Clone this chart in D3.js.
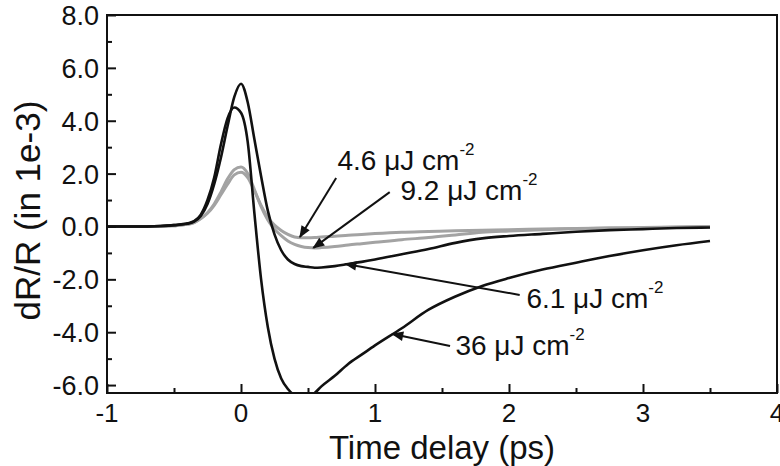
<!DOCTYPE html>
<html>
<head>
<meta charset="utf-8">
<script src="https://cdn.jsdelivr.net/npm/d3@7"></script>
<style>
  body { margin: 0; background: #fff; }
  svg { display: block; font-family: "Liberation Sans", Arial, sans-serif; }
</style>
</head>
<body>
<svg id="chart" width="780" height="466"></svg>
<script>
// time delay (ps), shared by all four traces
var times = [-1.0, -0.8, -0.6, -0.5, -0.4, -0.35, -0.3, -0.25, -0.2, -0.15, -0.1, -0.05,
  0.0, 0.05, 0.1, 0.15, 0.2, 0.25, 0.3, 0.35, 0.4, 0.45, 0.5, 0.55, 0.6, 0.7, 0.8, 0.9,
  1.0, 1.2, 1.4, 1.6, 1.8, 2.0, 2.25, 2.5, 2.75, 3.0, 3.25, 3.5];

// dR/R in 1e-3
var f36 = [0.0, 0.0, 0.02, 0.05, 0.12, 0.2, 0.45, 1.0, 1.85, 3.1, 4.1, 4.5,
  4.3, 3.2, 0.5, -2.0, -3.8, -5.0, -5.75, -6.15, -6.4, -6.55, -6.5, -6.3, -6.05, -5.65, -5.2, -4.85,
  -4.5, -3.85, -3.15, -2.65, -2.25, -1.95, -1.63, -1.37, -1.12, -0.9, -0.71, -0.55];
var f61 = [0.0, 0.0, 0.02, 0.05, 0.1, 0.18, 0.4, 0.85, 1.6, 2.6, 3.8, 4.9,
  5.4, 4.7, 3.3, 1.9, 0.6, -0.3, -0.9, -1.25, -1.42, -1.5, -1.53, -1.56, -1.55, -1.5, -1.42, -1.34,
  -1.25, -1.05, -0.85, -0.62, -0.45, -0.36, -0.28, -0.2, -0.14, -0.1, -0.06, -0.04];
var f46 = [0.0, 0.0, 0.0, 0.03, 0.08, 0.15, 0.3, 0.5, 0.8, 1.2, 1.6, 1.95,
  2.05, 1.85, 1.35, 0.8, 0.35, 0.05, -0.15, -0.3, -0.4, -0.43, -0.43, -0.42, -0.4, -0.37, -0.33, -0.3,
  -0.27, -0.22, -0.19, -0.16, -0.14, -0.12, -0.1, -0.08, -0.06, -0.05, -0.03, -0.02];
var f92 = [0.0, 0.0, 0.0, 0.03, 0.08, 0.15, 0.3, 0.52, 0.85, 1.3, 1.8, 2.15,
  2.25, 2.0, 1.4, 0.75, 0.25, -0.1, -0.35, -0.55, -0.68, -0.76, -0.8, -0.81, -0.8, -0.76, -0.7, -0.65,
  -0.6, -0.5, -0.42, -0.32, -0.22, -0.17, -0.12, -0.09, -0.06, -0.04, -0.02, 0.0];

var xTicks = [-1, 0, 1, 2, 3, 4];
var yTicks = [-6, -4, -2, 0, 2, 4, 6, 8];

// annotation: label anchor, arrow start, arrow tip (data units)
var notes = [
  { value: "4.6", tx: 0.72, ty: 2.14, x1: 0.71, y1: 1.83, x2: 0.44, y2: -0.4 },
  { value: "9.2", tx: 1.19, ty: 1.0, x1: 1.11, y1: 1.3, x2: 0.54, y2: -0.81 },
  { value: "6.1", tx: 2.13, ty: -3.08, x1: 2.08, y1: -2.59, x2: 0.78, y2: -1.42 },
  { value: "36", tx: 1.6, ty: -4.86, x1: 1.56, y1: -4.52, x2: 1.13, y2: -4.07 }
];

var svg = d3.select("#chart");
var pLeft = 107, pRight = 777, pTop = 15, pBottom = 393;

var x = d3.scaleLinear().domain([-1, 4]).range([pLeft, pRight]);
var y = d3.scaleLinear().domain([-6.3, 8]).range([pBottom, pTop]);

var defs = svg.append("defs");
defs.append("clipPath").attr("id", "plot")
  .append("rect")
  .attr("x", pLeft).attr("y", pTop)
  .attr("width", pRight - pLeft).attr("height", pBottom - pTop);

defs.append("marker")
  .attr("id", "head")
  .attr("viewBox", "0 0 10 10")
  .attr("refX", 9).attr("refY", 5)
  .attr("markerWidth", 7).attr("markerHeight", 6)
  .attr("markerUnits", "strokeWidth")
  .attr("orient", "auto")
  .append("path")
  .attr("d", "M0,1 L10,5 L0,9 z")
  .attr("fill", "#111");

var line = d3.line()
  .x(function(d, i) { return x(times[i]); })
  .y(function(d) { return y(d); })
  .curve(d3.curveMonotoneX);

var traces = svg.append("g").attr("clip-path", "url(#plot)");

var series = [
  { data: f46, color: "#a3a3a3", width: 3 },
  { data: f92, color: "#a3a3a3", width: 3 },
  { data: f61, color: "#111", width: 2.6 },
  { data: f36, color: "#111", width: 2.6 }
];

traces.selectAll("path")
  .data(series)
  .enter()
  .append("path")
  .attr("d", function(s) { return line(s.data); })
  .attr("fill", "none")
  .attr("stroke", function(s) { return s.color; })
  .attr("stroke-width", function(s) { return s.width; })
  .attr("stroke-linejoin", "round");

// frame
svg.append("rect")
  .attr("x", pLeft).attr("y", pTop)
  .attr("width", pRight - pLeft).attr("height", pBottom - pTop)
  .attr("fill", "none")
  .attr("stroke", "#111")
  .attr("stroke-width", 2);

// inward ticks, minor at half steps
var xAxis = d3.axisTop(x).tickValues(xTicks).tickSize(9).tickFormat("");
var xMinor = d3.axisTop(x).tickValues(d3.range(-0.5, 4, 1)).tickSize(5).tickFormat("");
var yAxis = d3.axisRight(y).tickValues(yTicks).tickSize(9).tickFormat("");
var yMinor = d3.axisRight(y).tickValues(d3.range(-5, 8, 2)).tickSize(5).tickFormat("");

[[xAxis, "translate(0," + pBottom + ")"], [xMinor, "translate(0," + pBottom + ")"],
 [yAxis, "translate(" + pLeft + ",0)"], [yMinor, "translate(" + pLeft + ",0)"]].forEach(function(a) {
  var g = svg.append("g").attr("transform", a[1]).call(a[0]);
  g.select(".domain").remove();
  g.selectAll("line").attr("stroke", "#111").attr("stroke-width", 2);
});

svg.append("g").selectAll("text")
  .data(xTicks)
  .enter()
  .append("text")
  .attr("x", function(d) { return x(d); })
  .attr("y", 422)
  .attr("text-anchor", "middle")
  .attr("font-size", 26)
  .attr("fill", "#111")
  .text(function(d) { return String(d); });

svg.append("g").selectAll("text")
  .data(yTicks)
  .enter()
  .append("text")
  .attr("x", 99)
  .attr("y", function(d) { return y(d) + 10; })
  .attr("text-anchor", "end")
  .attr("font-size", 27)
  .attr("fill", "#111")
  .text(function(d) { return d.toFixed(1); });

svg.append("text")
  .attr("x", (pLeft + pRight) / 2)
  .attr("y", 459)
  .attr("text-anchor", "middle")
  .attr("font-size", 33)
  .attr("fill", "#111")
  .text("Time delay (ps)");

svg.append("text")
  .attr("transform", "translate(40," + y(0.6) + ") rotate(-90)")
  .attr("text-anchor", "middle")
  .attr("font-size", 35)
  .attr("fill", "#111")
  .text("dR/R (in 1e-3)");

// annotations
var ann = svg.append("g");
ann.selectAll("line")
  .data(notes)
  .enter()
  .append("line")
  .attr("x1", function(d) { return x(d.x1); })
  .attr("y1", function(d) { return y(d.y1); })
  .attr("x2", function(d) { return x(d.x2); })
  .attr("y2", function(d) { return y(d.y2); })
  .attr("stroke", "#111")
  .attr("stroke-width", 2)
  .attr("marker-end", "url(#head)");

var labels = ann.selectAll("text")
  .data(notes)
  .enter()
  .append("text")
  .attr("x", function(d) { return x(d.tx); })
  .attr("y", function(d) { return y(d.ty); })
  .attr("font-size", 28)
  .attr("fill", "#111");
labels.append("tspan").text(function(d) { return d.value + " \u03bcJ cm"; });
labels.append("tspan")
  .attr("dy", -15)
  .attr("font-size", 17)
  .text("-2");
</script>
</body>
</html>
